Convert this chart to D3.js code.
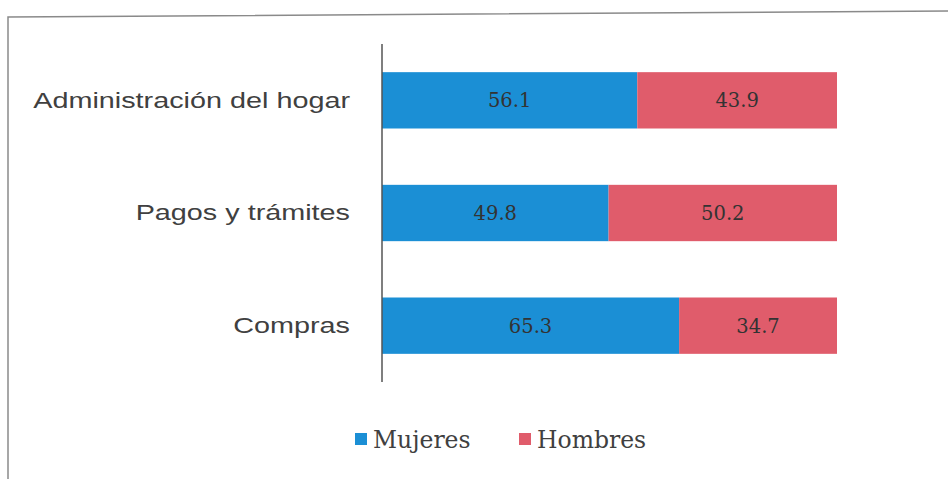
<!DOCTYPE html>
<html>
<head>
<meta charset="utf-8">
<script src="https://cdn.jsdelivr.net/npm/d3@7"></script>
<style>
  body { margin: 0; background: #fff; }
  svg { display: block; }
</style>
</head>
<body>
<div class="chart"></div>
<script>
// chart data
var categories = ["Administración del hogar", "Pagos y trámites", "Compras"];
var mujeres = [56.1, 49.8, 65.3];
var hombres = [43.9, 50.2, 34.7];
var seriesNames = ["Mujeres", "Hombres"];

var colors = {
  mujeres: "#1b8fd5",
  hombres: "#e05c6b",
};

var width = 948;
var height = 479;
// the scanned chart is a little stretched sideways
var stretch = 1.28;

var svg = d3.select(".chart").append("svg")
  .attr("width", width)
  .attr("height", height);

// frame of the scanned chart
svg.append("path")
  .attr("d", "M8,479 L8,17 L948,11")
  .attr("fill", "none")
  .attr("stroke", "#8a8a8a")
  .attr("stroke-width", 1.5);

var x = d3.scaleLinear().domain([0, 100]).range([382, 837]);
var y = d3.scaleBand().domain(categories).range([44, 382]).paddingInner(0.5).paddingOuter(0.25);

// stacked rows built from the series arrays
var rows = categories.map(function (c, i) {
  return { cat: c, Mujeres: mujeres[i], Hombres: hombres[i] };
});
var stack = d3.stack().keys(seriesNames)(rows);
var fill = { Mujeres: colors.mujeres, Hombres: colors.hombres };

var layer = svg.selectAll("g.layer")
  .data(stack)
  .enter().append("g")
  .attr("class", "layer")
  .attr("fill", function (d) { return fill[d.key]; });

layer.selectAll("rect")
  .data(function (d) { return d; })
  .enter().append("rect")
  .attr("x", function (d) { return x(d[0]); })
  .attr("y", function (d) { return y(d.data.cat); })
  .attr("width", function (d) { return x(d[1]) - x(d[0]); })
  .attr("height", y.bandwidth());

// value labels
layer.selectAll("text")
  .data(function (d) { return d.map(function (p) { return { p: p, key: d.key }; }); })
  .enter().append("text")
  .attr("x", function (d) { return (x(d.p[0]) + x(d.p[1])) / 2; })
  .attr("y", function (d) { return y(d.p.data.cat) + y.bandwidth() / 2; })
  .attr("dy", "0.36em")
  .attr("text-anchor", "middle")
  .attr("fill", "#333")
  .style("font-family", "'DejaVu Serif', 'Liberation Serif', serif")
  .style("font-size", "19.5px")
  .text(function (d) { return d3.format(".1f")(d.p.data[d.key]); });

// y axis
var yAxis = svg.append("g")
  .attr("transform", "translate(382,0)")
  .call(d3.axisLeft(y).tickSize(0).tickPadding(32));
yAxis.select(".domain").remove();
yAxis.append("line")
  .attr("x1", 0).attr("x2", 0)
  .attr("y1", 44).attr("y2", 382)
  .attr("stroke", "#555")
  .attr("stroke-width", 1.5);
yAxis.selectAll(".tick text")
  .attr("x", 0)
  .attr("transform", "translate(-32,0) scale(" + stretch + ",1)")
  .attr("fill", "#404040")
  .style("font-family", "'Liberation Sans', Arial, sans-serif")
  .style("font-size", "22.5px");

// legend
var legend = svg.append("g").attr("transform", "translate(355,439)");
var legendX = [0, 164];
seriesNames.forEach(function (name, i) {
  var g = legend.append("g").attr("transform", "translate(" + legendX[i] + ",0)");
  g.append("rect")
    .attr("x", 0).attr("y", -6)
    .attr("width", 12).attr("height", 12)
    .attr("fill", fill[name]);
  g.append("text")
    .attr("x", 18).attr("y", 1)
    .attr("dy", "0.35em")
    .attr("fill", "#404040")
    .style("font-family", "'DejaVu Serif', 'Liberation Serif', serif")
    .style("font-size", "23.5px")
    .text(name);
});
</script>
</body>
</html>
